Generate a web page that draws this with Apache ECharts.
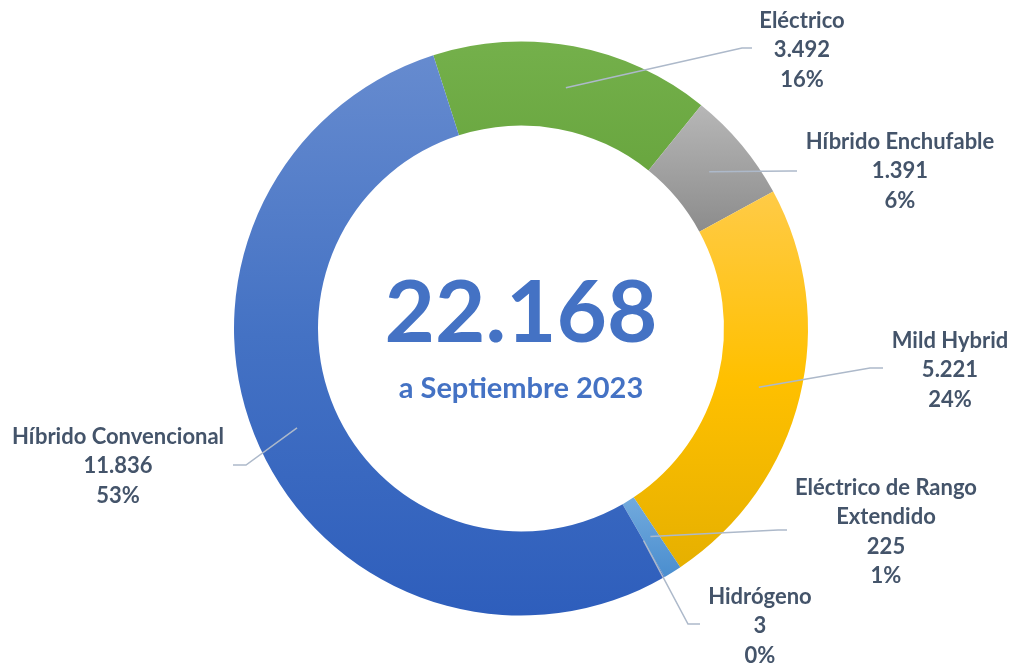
<!DOCTYPE html>
<html>
<head>
<meta charset="utf-8">
<script src="https://cdn.jsdelivr.net/npm/echarts@6/dist/echarts.min.js"></script>
<style>
  html, body { margin: 0; padding: 0; background: #ffffff; }
  #chart { width: 1014px; height: 665px; }
</style>
</head>
<body>
<div id="chart"></div>
<script>
// ---- data ----
var categories = ['Eléctrico', 'Híbrido Enchufable', 'Mild Hybrid', 'Eléctrico de Rango Extendido', 'Hidrógeno', 'Híbrido Convencional'];
var values = [3492, 1391, 5221, 225, 3, 11836];
var subtitle = 'a Septiembre 2023';

// ---- layout / style ----
var CX = 521, CY = 328.5, R_IN = 203, R_OUT = 287, R_MID = 245;
var START_ANGLE = 107.8;
var TEXT_COLOR = '#44546A';
var LINE_COLOR = '#ADB9CA';
var FONT = 'Lato';

var sliceColors = [
  ['#74B04B', '#69A63F'],
  ['#B7B7B7', '#8C8C8C'],
  ['#FFCB47', '#FFC000', '#E6B000'],
  ['#72AADD', '#4A8ECF'],
  ['#2E75B6', '#2E75B6'],
  ['#668BCF', '#4472C4', '#2E5EBC']
];

// label block centres and leader-line bend/end points
var labelPos = [
  { x: 802, y: 50,  pts: [[742, 48], [752, 48]] },
  { x: 900, y: 171, pts: [[790, 171], [797, 171]] },
  { x: 950, y: 370, pts: [[870, 368], [883, 368]] },
  { x: 886, y: 532, pts: [[778, 530], [787, 530]] },
  { x: 760, y: 626, pts: [[688, 624], [700, 624]] },
  { x: 118, y: 466, pts: [[246, 465], [233, 465]] }
];

function fmt(n) { return String(n).replace(/\B(?=(\d{3})+(?!\d))/g, '.'); }
function grad(stops) {
  var cs = stops.map(function (c, i) { return { offset: i / (stops.length - 1), color: c }; });
  return new echarts.graphic.LinearGradient(0, 0, 0, 1, cs);
}

var total = values.reduce(function (a, b) { return a + b; }, 0);
var cum = [];
(function () { var s = 0; values.forEach(function (v) { cum.push(s); s += v; }); })();

function anchor(i) {
  var a = (START_ANGLE - (cum[i] + values[i] / 2) / total * 360) * Math.PI / 180;
  return [CX + R_MID * Math.cos(a), CY - R_MID * Math.sin(a)];
}

var ringData = categories.map(function (c, i) {
  return { name: c, value: values[i], itemStyle: { color: grad(sliceColors[i]) } };
});
var labelData = categories.map(function (c, i) {
  return { name: c, value: values[i] };
});

var chart = echarts.init(document.getElementById('chart'), null, { renderer: 'canvas' });
chart.setOption({
  animation: false,
  backgroundColor: '#ffffff',
  series: [
    {
      type: 'pie',
      silent: true,
      center: [CX, CY],
      radius: [R_IN, R_OUT],
      startAngle: START_ANGLE,
      clockwise: true,
      label: { show: false },
      labelLine: { show: false },
      itemStyle: { borderWidth: 0 },
      data: ringData,
      z: 1
    },
    {
      type: 'pie',
      silent: true,
      center: [CX, CY],
      radius: [0, R_MID],
      startAngle: START_ANGLE,
      clockwise: true,
      avoidLabelOverlap: false,
      itemStyle: { color: 'rgba(0,0,0,0)', borderWidth: 0 },
      label: {
        show: true,
        position: 'outside',
        color: TEXT_COLOR,
        fontFamily: FONT,
        fontWeight: 'bold',
        fontSize: 22,
        lineHeight: 29.5,
        align: 'center',
        formatter: function (p) {
          var name = p.name;
          if (name.length > 22) {
            var k = name.lastIndexOf(' ');
            name = name.slice(0, k) + '\n' + name.slice(k + 1);
          }
          return name + '\n' + fmt(p.value) + '\n' + Math.round(p.percent) + '%';
        }
      },
      labelLine: {
        show: true,
        lineStyle: { color: LINE_COLOR, width: 1.5 }
      },
      labelLayout: function (params) {
        var i = params.dataIndex;
        var lp = labelPos[i];
        return {
          x: lp.x,
          y: lp.y,
          align: 'center',
          verticalAlign: 'middle',
          labelLinePoints: [anchor(i), lp.pts[0], lp.pts[1]]
        };
      },
      data: labelData,
      z: 2
    }
  ],
  graphic: [
    {
      type: 'text',
      x: CX,
      y: 314,
      style: {
        text: fmt(total),
        fill: '#4472C4',
        font: 'bold 87px Lato',
        textAlign: 'center',
        textVerticalAlign: 'middle'
      },
      z: 10
    },
    {
      type: 'text',
      x: CX,
      y: 389,
      style: {
        text: subtitle,
        fill: '#4472C4',
        font: 'bold 29px Lato',
        textAlign: 'center',
        textVerticalAlign: 'middle'
      },
      z: 10
    }
  ]
});
</script>
</body>
</html>
